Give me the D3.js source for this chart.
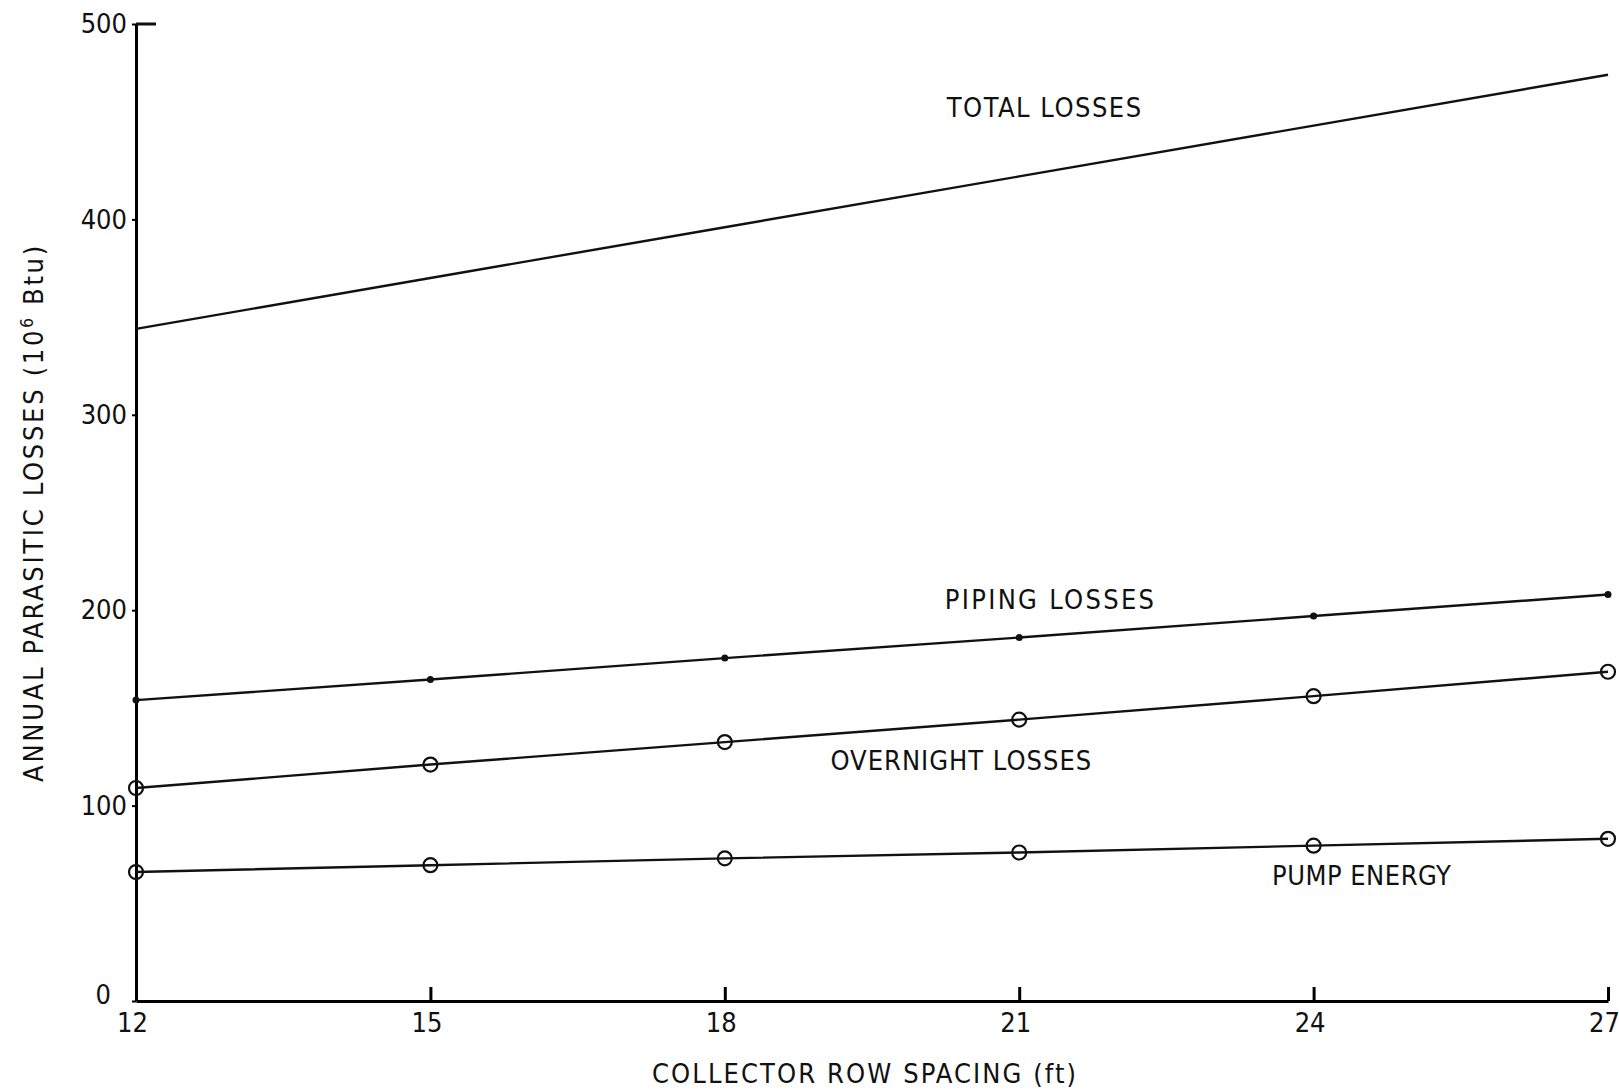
<!DOCTYPE html>
<html>
<head>
<meta charset="utf-8">
<script src="https://cdn.jsdelivr.net/npm/d3@7"></script>
<style>
  body { margin: 0; background: #fff; }
  text { font-family: "DejaVu Sans Condensed", "DejaVu Sans", sans-serif; fill: #111; }
</style>
</head>
<body>
<div id="chart-container"></div>
<script>
// data
const spacing = [12, 15, 18, 21, 24, 27];
const totalLosses = [344, 370, 396, 422, 448, 474];
const pipingLosses = [154, 164.5, 175.5, 186, 197, 208];
const overnightLosses = [109, 121, 132.5, 144, 156, 168.5];
const pumpEnergy = [66, 69.5, 73, 76, 79.5, 83];
const xTicks = [12, 15, 18, 21, 24, 27];
const yTicks = [0, 100, 200, 300, 400, 500];

// size and margins
const margin = { top: 24, right: 11, bottom: 91, left: 136 };
const width = 1619 - margin.left - margin.right;
const height = 1092 - margin.top - margin.bottom;

const x = d3.scaleLinear().domain([12, 27]).range([0, width]);
const y = d3.scaleLinear().domain([0, 500]).range([height, 0]);

const svg = d3.select("#chart-container")
  .append("svg")
  .attr("width", width + margin.left + margin.right)
  .attr("height", height + margin.top + margin.bottom)
  .append("g")
  .attr("transform", `translate(${margin.left},${margin.top})`);

// x axis (ticks point up into the plot)
const xAxis = svg.append("g")
  .attr("transform", `translate(0,${height})`)
  .call(d3.axisBottom(x).tickValues(xTicks).tickFormat(d3.format("d"))
    .tickSizeInner(-14).tickSizeOuter(0).tickPadding(12));
xAxis.select(".domain").attr("stroke-width", 3);
xAxis.selectAll(".tick line").attr("stroke-width", 3);
xAxis.selectAll(".tick text").style("font-size", "27px").attr("dx", "-4px");

// y axis (small ticks outward)
const yAxis = svg.append("g")
  .call(d3.axisLeft(y).tickValues(yTicks).tickFormat(d3.format("d"))
    .tickSizeInner(4).tickSizeOuter(0).tickPadding(5));
yAxis.select(".domain").attr("stroke-width", 3);
yAxis.selectAll(".tick line").attr("stroke-width", 2);
yAxis.selectAll(".tick text").style("font-size", "27px")
  .attr("dx", d => d === 0 ? "-16px" : 0)
  .attr("dy", d => d === 0 ? "0.1em" : "0.32em");

// cap at the top of the y axis
svg.append("line")
  .attr("x1", 0).attr("x2", 20)
  .attr("y1", y(500)).attr("y2", y(500))
  .attr("stroke", "#111").attr("stroke-width", 3);

// series
const series = [
  { name: "total", values: totalLosses, marker: "none" },
  { name: "piping", values: pipingLosses, marker: "dot" },
  { name: "overnight", values: overnightLosses, marker: "circle" },
  { name: "pump", values: pumpEnergy, marker: "circle" }
];

const line = d3.line()
  .x(d => x(d.x))
  .y(d => y(d.y));

series.forEach(s => {
  const pts = spacing.map((v, i) => ({ x: v, y: s.values[i] }));
  svg.append("path")
    .datum(pts)
    .attr("fill", "none")
    .attr("stroke", "#111")
    .attr("stroke-width", 2.4)
    .attr("d", line);

  if (s.marker === "dot") {
    svg.selectAll(null)
      .data(pts)
      .join("circle")
      .attr("cx", d => x(d.x))
      .attr("cy", d => y(d.y))
      .attr("r", 3.5)
      .attr("fill", "#111");
  } else if (s.marker === "circle") {
    svg.selectAll(null)
      .data(pts)
      .join("circle")
      .attr("cx", d => x(d.x))
      .attr("cy", d => y(d.y))
      .attr("r", 7)
      .attr("fill", "none")
      .attr("stroke", "#111")
      .attr("stroke-width", 2.2);
  }
});

// curve labels (placed in data units)
const labels = [
  { text: "TOTAL LOSSES", x: 21.26, y: 457, ls: 1.5 },
  { text: "PIPING LOSSES", x: 21.32, y: 205.7, ls: 2.3 },
  { text: "OVERNIGHT LOSSES", x: 20.41, y: 122.8, ls: 1 },
  { text: "PUMP ENERGY", x: 24.49, y: 64.2, ls: 0.5 }
];
svg.selectAll(".curve-label")
  .data(labels)
  .join("text")
  .attr("class", "curve-label")
  .attr("x", d => x(d.x))
  .attr("y", d => y(d.y))
  .attr("dy", "0.35em")
  .style("text-anchor", "middle")
  .style("font-size", "27px")
  .style("letter-spacing", d => d.ls + "px")
  .text(d => d.text);

// x axis title
svg.append("text")
  .attr("x", x(19.43))
  .attr("y", height + 73)
  .attr("dy", "0.35em")
  .style("text-anchor", "middle")
  .style("font-size", "27px")
  .style("letter-spacing", "2.1px")
  .text("COLLECTOR ROW SPACING (ft)");

// y axis title
const yTitle = svg.append("text")
  .attr("transform", `translate(${-102},${y(250)})rotate(-90)`)
  .attr("dy", "0.35em")
  .style("text-anchor", "middle")
  .style("font-size", "27px")
  .style("letter-spacing", "2.7px");
yTitle.append("tspan").text("ANNUAL PARASITIC LOSSES (10");
yTitle.append("tspan").attr("baseline-shift", "super").style("font-size", "17px").text("6");
yTitle.append("tspan").text(" Btu)");
</script>
</body>
</html>
